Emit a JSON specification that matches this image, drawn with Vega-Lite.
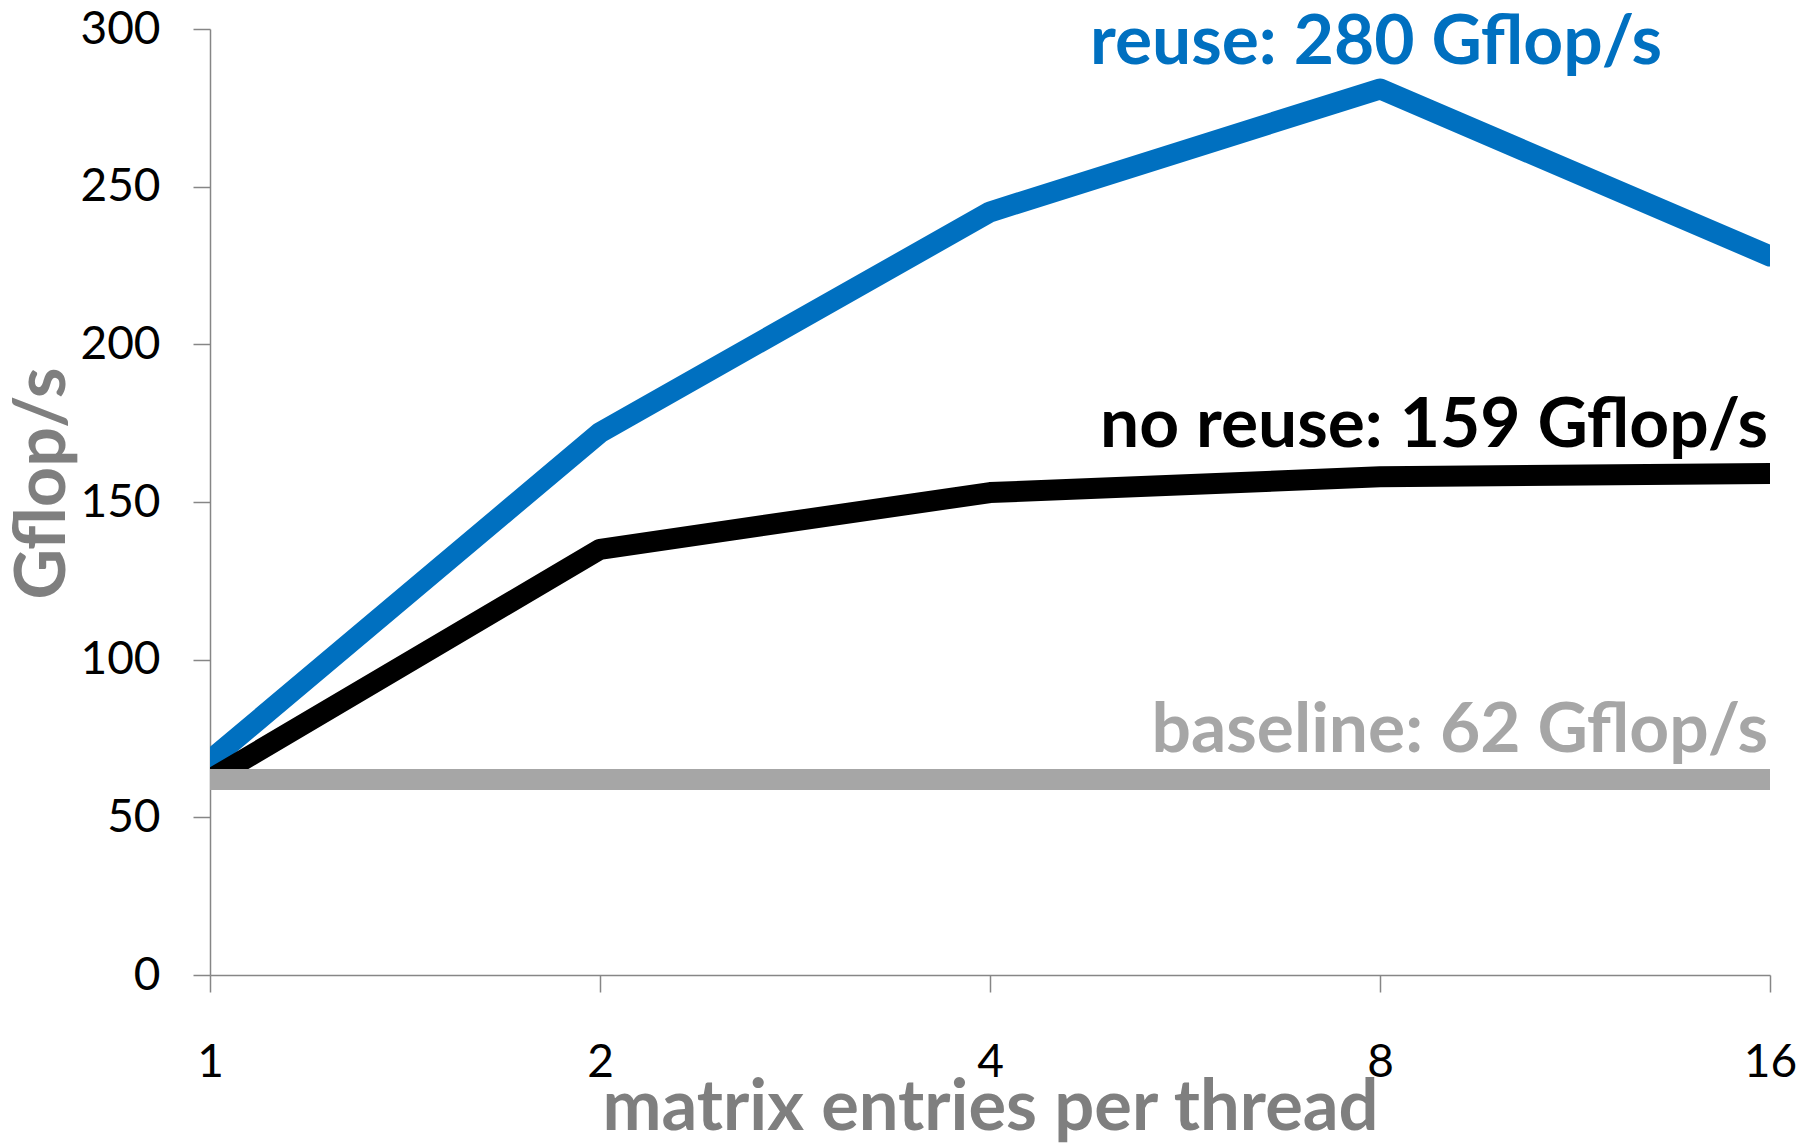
{
  "$schema": "https://vega.github.io/schema/vega-lite/v6.json",
  "width": 1560,
  "height": 946,
  "autosize": {"type": "none"},
  "padding": {"left": 210, "top": 29, "right": 46, "bottom": 168},
  "background": "white",
  "config": {"view": {"stroke": null}, "font": "Lato"},
  "datasets": {
    "perf": [
      {"series": "reuse", "entries": 1, "gflops": 68},
      {"series": "reuse", "entries": 2, "gflops": 172},
      {"series": "reuse", "entries": 4, "gflops": 242},
      {"series": "reuse", "entries": 8, "gflops": 281},
      {"series": "reuse", "entries": 16, "gflops": 228},
      {"series": "no reuse", "entries": 1, "gflops": 62},
      {"series": "no reuse", "entries": 2, "gflops": 135},
      {"series": "no reuse", "entries": 4, "gflops": 153},
      {"series": "no reuse", "entries": 8, "gflops": 158},
      {"series": "no reuse", "entries": 16, "gflops": 159},
      {"series": "baseline", "entries": 1, "gflops": 62},
      {"series": "baseline", "entries": 2, "gflops": 62},
      {"series": "baseline", "entries": 4, "gflops": 62},
      {"series": "baseline", "entries": 8, "gflops": 62},
      {"series": "baseline", "entries": 16, "gflops": 62}
    ],
    "labels": [
      {"series": "reuse", "entries": 8, "gflops": 280, "label": "reuse: 280 Gflop/s", "pos": "center"},
      {"series": "no reuse", "entries": 16, "gflops": 159, "label": "no reuse: 159 Gflop/s", "pos": "right"},
      {"series": "baseline", "entries": 16, "gflops": 62, "label": "baseline: 62 Gflop/s", "pos": "right"}
    ]
  },
  "encoding": {
    "x": {
      "field": "entries", "type": "quantitative",
      "scale": {"type": "log", "base": 2, "domain": [1, 16], "nice": false},
      "axis": {
        "values": [1, 2, 4, 8, 16],
        "format": "d",
        "title": "matrix entries per thread",
        "grid": false,
        "domainColor": "#868686", "domainWidth": 1.5,
        "tickColor": "#868686", "tickWidth": 1.5, "tickSize": 17,
        "labelFont": "Lato", "labelFontSize": 46, "labelColor": "#000000",
        "labelPadding": 48, "labelFlush": false, "labelOverlap": false,
        "titleFont": "Lato", "titleFontSize": 70.5, "titleFontWeight": "bold", "titleColor": "#7F7F7F",
        "titleBaseline": "alphabetic", "titleY": 154, "titleX": 780, "titleAnchor": "middle"
      }
    },
    "y": {
      "field": "gflops", "type": "quantitative",
      "scale": {"domain": [0, 300], "nice": false},
      "axis": {
        "values": [0, 50, 100, 150, 200, 250, 300],
        "title": "Gflop/s",
        "grid": false,
        "domainColor": "#868686", "domainWidth": 1.5,
        "tickColor": "#868686", "tickWidth": 1.5, "tickSize": 17,
        "labelFont": "Lato", "labelFontSize": 46, "labelColor": "#000000",
        "labelPadding": 33,
        "titleFont": "Lato", "titleFontSize": 70, "titleFontWeight": "bold", "titleColor": "#7F7F7F",
        "titleAngle": -90, "titleBaseline": "alphabetic", "titleAlign": "center",
        "titleX": -146, "titleY": 454
      }
    },
    "color": {
      "field": "series", "type": "nominal",
      "scale": {"domain": ["reuse", "no reuse", "baseline"], "range": ["#0070C0", "#000000", "#A6A6A6"]},
      "legend": null
    }
  },
  "layer": [
    {
      "data": {"name": "perf"},
      "transform": [{"filter": "datum.series === 'reuse'"}],
      "mark": {"type": "line", "strokeWidth": 21, "strokeJoin": "round", "strokeCap": "round", "clip": true}
    },
    {
      "data": {"name": "perf"},
      "transform": [{"filter": "datum.series === 'no reuse'"}],
      "mark": {"type": "line", "strokeWidth": 21, "strokeJoin": "round", "strokeCap": "round", "clip": true}
    },
    {
      "data": {"name": "perf"},
      "transform": [{"filter": "datum.series === 'baseline'"}],
      "mark": {"type": "line", "strokeWidth": 21, "strokeJoin": "round", "strokeCap": "butt", "clip": true}
    },
    {
      "data": {"name": "labels"},
      "transform": [{"filter": "datum.pos === 'center'"}],
      "mark": {"type": "text", "font": "Lato", "fontWeight": "bold", "fontSize": 69.5, "align": "center", "baseline": "alphabetic", "dy": -28, "dx": -4},
      "encoding": {"text": {"field": "label"}}
    },
    {
      "data": {"name": "labels"},
      "transform": [{"filter": "datum.pos === 'right'"}],
      "mark": {"type": "text", "font": "Lato", "fontWeight": "bold", "fontSize": 69.5, "align": "right", "baseline": "alphabetic", "dy": -27, "dx": -2},
      "encoding": {"text": {"field": "label"}}
    }
  ]
}
